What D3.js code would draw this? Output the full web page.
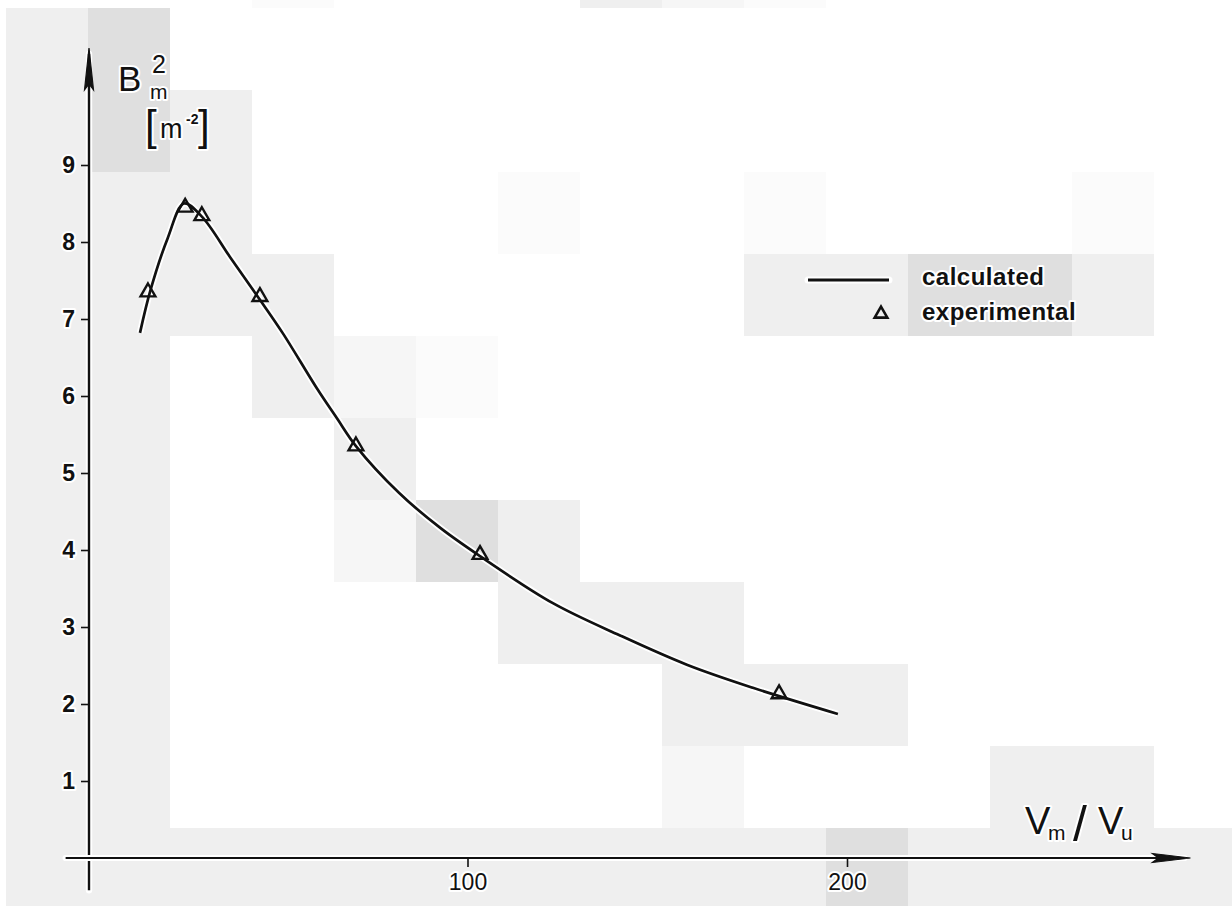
<!DOCTYPE html>
<html>
<head>
<meta charset="utf-8">
<script src="https://cdn.jsdelivr.net/npm/d3@7"></script>
<style>
  html, body { margin: 0; padding: 0; background: #fff; }
  svg { display: block; }
  text {
    font-family: "Liberation Sans", Arial, sans-serif;
    fill: #111;
    paint-order: stroke;
    stroke: #fff;
    stroke-width: 4px;
    stroke-linejoin: round;
  }
</style>
</head>
<body>
<svg id="chart" width="1232" height="906"></svg>
<script>
// Calculated curve: B_m^2 [m^-2] against V_m / V_u
const calcX = [13.7, 16.5, 21.0, 25.3, 30.0, 37.5, 45.3, 51.4, 60.3, 65.6, 70.6, 82.0, 93.0, 103.3, 122.5, 140.2, 157.8, 175.2, 197.6];
const calcY = [6.82, 7.38, 8.05, 8.50, 8.33, 7.80, 7.25, 6.81, 6.10, 5.71, 5.35, 4.74, 4.28, 3.92, 3.31, 2.89, 2.51, 2.21, 1.87];

// Experimental points
const expX = [15.8, 25.6, 30.0, 45.3, 70.6, 103.3, 182.1];
const expY = [7.35, 8.45, 8.34, 7.29, 5.35, 3.94, 2.13];

const yTicks = [1, 2, 3, 4, 5, 6, 7, 8, 9];
const xTicks = [100, 200];
const legendLabels = ["calculated", "experimental"];

// Grey shading blocks of the scanned sheet: [column, row, tone]
const paperTiles = [
  [3, -1, "d"], [7, -1, "a"], [8, -1, "c"], [9, -1, "d"],
  [0, 0, "a"], [1, 0, "b"],
  [0, 1, "a"], [1, 1, "b"], [2, 1, "a"],
  [0, 2, "a"], [1, 2, "a"], [2, 2, "a"], [6, 2, "d"], [9, 2, "d"], [13, 2, "d"],
  [0, 3, "a"], [1, 3, "a"], [2, 3, "a"], [3, 3, "a"], [9, 3, "a"], [10, 3, "a"], [11, 3, "b"], [12, 3, "b"], [13, 3, "a"],
  [0, 4, "a"], [1, 4, "a"], [3, 4, "a"], [4, 4, "c"], [5, 4, "d"],
  [0, 5, "a"], [1, 5, "a"], [4, 5, "a"],
  [0, 6, "a"], [1, 6, "a"], [4, 6, "c"], [5, 6, "b"], [6, 6, "a"],
  [0, 7, "a"], [1, 7, "a"], [6, 7, "a"], [7, 7, "a"], [8, 7, "a"],
  [0, 8, "a"], [1, 8, "a"], [8, 8, "a"], [9, 8, "a"], [10, 8, "a"],
  [0, 9, "a"], [1, 9, "a"], [8, 9, "c"], [12, 9, "a"], [13, 9, "a"],
  [0, 10, "a"], [1, 10, "a"], [2, 10, "a"], [3, 10, "a"], [4, 10, "a"], [5, 10, "a"], [6, 10, "a"], [7, 10, "a"],
  [8, 10, "a"], [9, 10, "a"], [10, 10, "b"], [11, 10, "a"], [12, 10, "a"], [13, 10, "a"], [14, 10, "a"]
];
const tones = { a: "#efefef", b: "#dfdfdf", c: "#f6f6f6", d: "#fbfbfb" };

const svg = d3.select("#chart");
const W = 1232, H = 906;

// ---- sheet shading ----
const tile = 82, tileX0 = 6, tileY0 = 8;
svg.append("rect").attr("width", W).attr("height", H).attr("fill", "#fff");
svg.append("g").selectAll("rect").data(paperTiles).join("rect")
  .attr("x", d => tileX0 + d[0] * tile)
  .attr("y", d => tileY0 + d[1] * tile)
  .attr("width", tile).attr("height", tile)
  .attr("fill", d => tones[d[2]]);

// ---- scales ----
const x = d3.scaleLinear().domain([0, 200]).range([88, 847]);
const y = d3.scaleLinear().domain([0, 9]).range([858, 165]);

// line with a white halo underneath
function haloLine(g, x1, y1, x2, y2, w) {
  g.append("line").attr("x1", x1).attr("y1", y1).attr("x2", x2).attr("y2", y2)
    .attr("stroke", "#fff").attr("stroke-width", w + 4).attr("stroke-linecap", "round");
  g.append("line").attr("x1", x1).attr("y1", y1).attr("x2", x2).attr("y2", y2)
    .attr("stroke", "#111").attr("stroke-width", w);
}

// ---- axes lines with arrows ----
const axes = svg.append("g");
const ax0 = x(0) + 1, ay0 = y(0);
const yTop = y(10.52), yBot = y(-0.42);
const xLeft = x(-5.9), xRight = x(290.5);
haloLine(axes, ax0, yBot, ax0, yTop + 6, 2.4);
haloLine(axes, xLeft, ay0, xRight - 6, ay0, 2.2);

// arrowheads
axes.append("path")
  .attr("d", `M${ax0},${yTop} L${ax0 - 4.5},${yTop + 42} L${ax0},${yTop + 36} L${ax0 + 4.5},${yTop + 42} Z`)
  .attr("fill", "#111").attr("stroke", "#111").attr("stroke-width", 1.2);
axes.append("path")
  .attr("d", `M${xRight},${ay0} L${xRight - 38},${ay0 - 4.5} L${xRight - 32},${ay0} L${xRight - 38},${ay0 + 4.5} Z`)
  .attr("fill", "#111").attr("stroke", "#111").attr("stroke-width", 1.2);

// ---- tick marks and labels ----
const yAxis = svg.append("g").attr("transform", `translate(${ax0},0)`)
  .call(d3.axisLeft(y).tickValues(yTicks).tickSize(8).tickPadding(6).tickFormat(d3.format("d")));
yAxis.select(".domain").remove();
yAxis.selectAll(".tick line").attr("stroke", "#111").attr("stroke-width", 1.6);
yAxis.selectAll(".tick text")
  .attr("font-size", 23).attr("font-weight", "bold").attr("fill", "#111");
yAxis.attr("font-size", null).attr("font-family", null);

const xAxis = svg.append("g").attr("transform", `translate(0,${ay0})`)
  .call(d3.axisBottom(x).tickValues(xTicks).tickSize(9).tickPadding(7).tickFormat(d3.format("d")));
xAxis.select(".domain").remove();
xAxis.selectAll(".tick line").attr("stroke", "#111").attr("stroke-width", 1.6);
xAxis.selectAll(".tick text")
  .attr("font-size", 23).attr("fill", "#111");
xAxis.attr("font-size", null).attr("font-family", null);

// ---- calculated curve ----
const calcData = calcX.map((v, i) => [v, calcY[i]]);
const line = d3.line().x(d => x(d[0])).y(d => y(d[1])).curve(d3.curveCatmullRom.alpha(0.5));
svg.append("path").datum(calcData).attr("d", line)
  .attr("fill", "none").attr("stroke", "#fff").attr("stroke-width", 6.5).attr("stroke-linejoin", "round");
svg.append("path").datum(calcData).attr("d", line)
  .attr("fill", "none").attr("stroke", "#111").attr("stroke-width", 2.7).attr("stroke-linejoin", "round");

// ---- experimental triangles ----
const tri = d3.symbol(d3.symbolTriangle, 95);
const expData = expX.map((v, i) => [v, expY[i]]);
svg.append("g").selectAll("path").data(expData).join("path")
  .attr("transform", d => `translate(${x(d[0])},${y(d[1])})`)
  .attr("d", tri)
  .attr("fill", "none").attr("stroke", "#111").attr("stroke-width", 2.4).attr("stroke-linejoin", "miter");

// ---- legend ----
const lg = svg.append("g");
haloLine(lg, 808, 280, 889, 280, 3);
lg.append("path").attr("transform", "translate(881,314)").attr("d", d3.symbol(d3.symbolTriangle, 70))
  .attr("fill", "none").attr("stroke", "#111").attr("stroke-width", 2.6);
lg.selectAll("text").data(legendLabels).join("text")
  .attr("x", 922).attr("y", (d, i) => 285 + i * 35)
  .attr("font-size", 24).attr("font-weight", "bold").attr("letter-spacing", 0.5)
  .text(d => d);

// ---- axis titles ----
const t = svg.append("g");
t.append("text").attr("x", 118).attr("y", 91).attr("font-size", 35).text("B");
t.append("text").attr("x", 152).attr("y", 73).attr("font-size", 25).text("2");
t.append("text").attr("x", 150).attr("y", 99).attr("font-size", 21).text("m");
t.append("text").attr("x", 145).attr("y", 140).attr("font-size", 42).text("[");
t.append("text").attr("x", 160).attr("y", 138).attr("font-size", 27).text("m");
t.append("text").attr("x", 186).attr("y", 124).attr("font-size", 14).attr("font-weight", "bold").text("-2");
t.append("text").attr("x", 198).attr("y", 140).attr("font-size", 42).text("]");

t.append("text").attr("x", 1025).attr("y", 834).attr("font-size", 38).text("V");
t.append("text").attr("x", 1048).attr("y", 840).attr("font-size", 21).text("m");
t.append("text").attr("x", 1073).attr("y", 841).attr("font-size", 50).text("/");
t.append("text").attr("x", 1098).attr("y", 834).attr("font-size", 38).text("V");
t.append("text").attr("x", 1121).attr("y", 840).attr("font-size", 21).text("u");
</script>
</body>
</html>
